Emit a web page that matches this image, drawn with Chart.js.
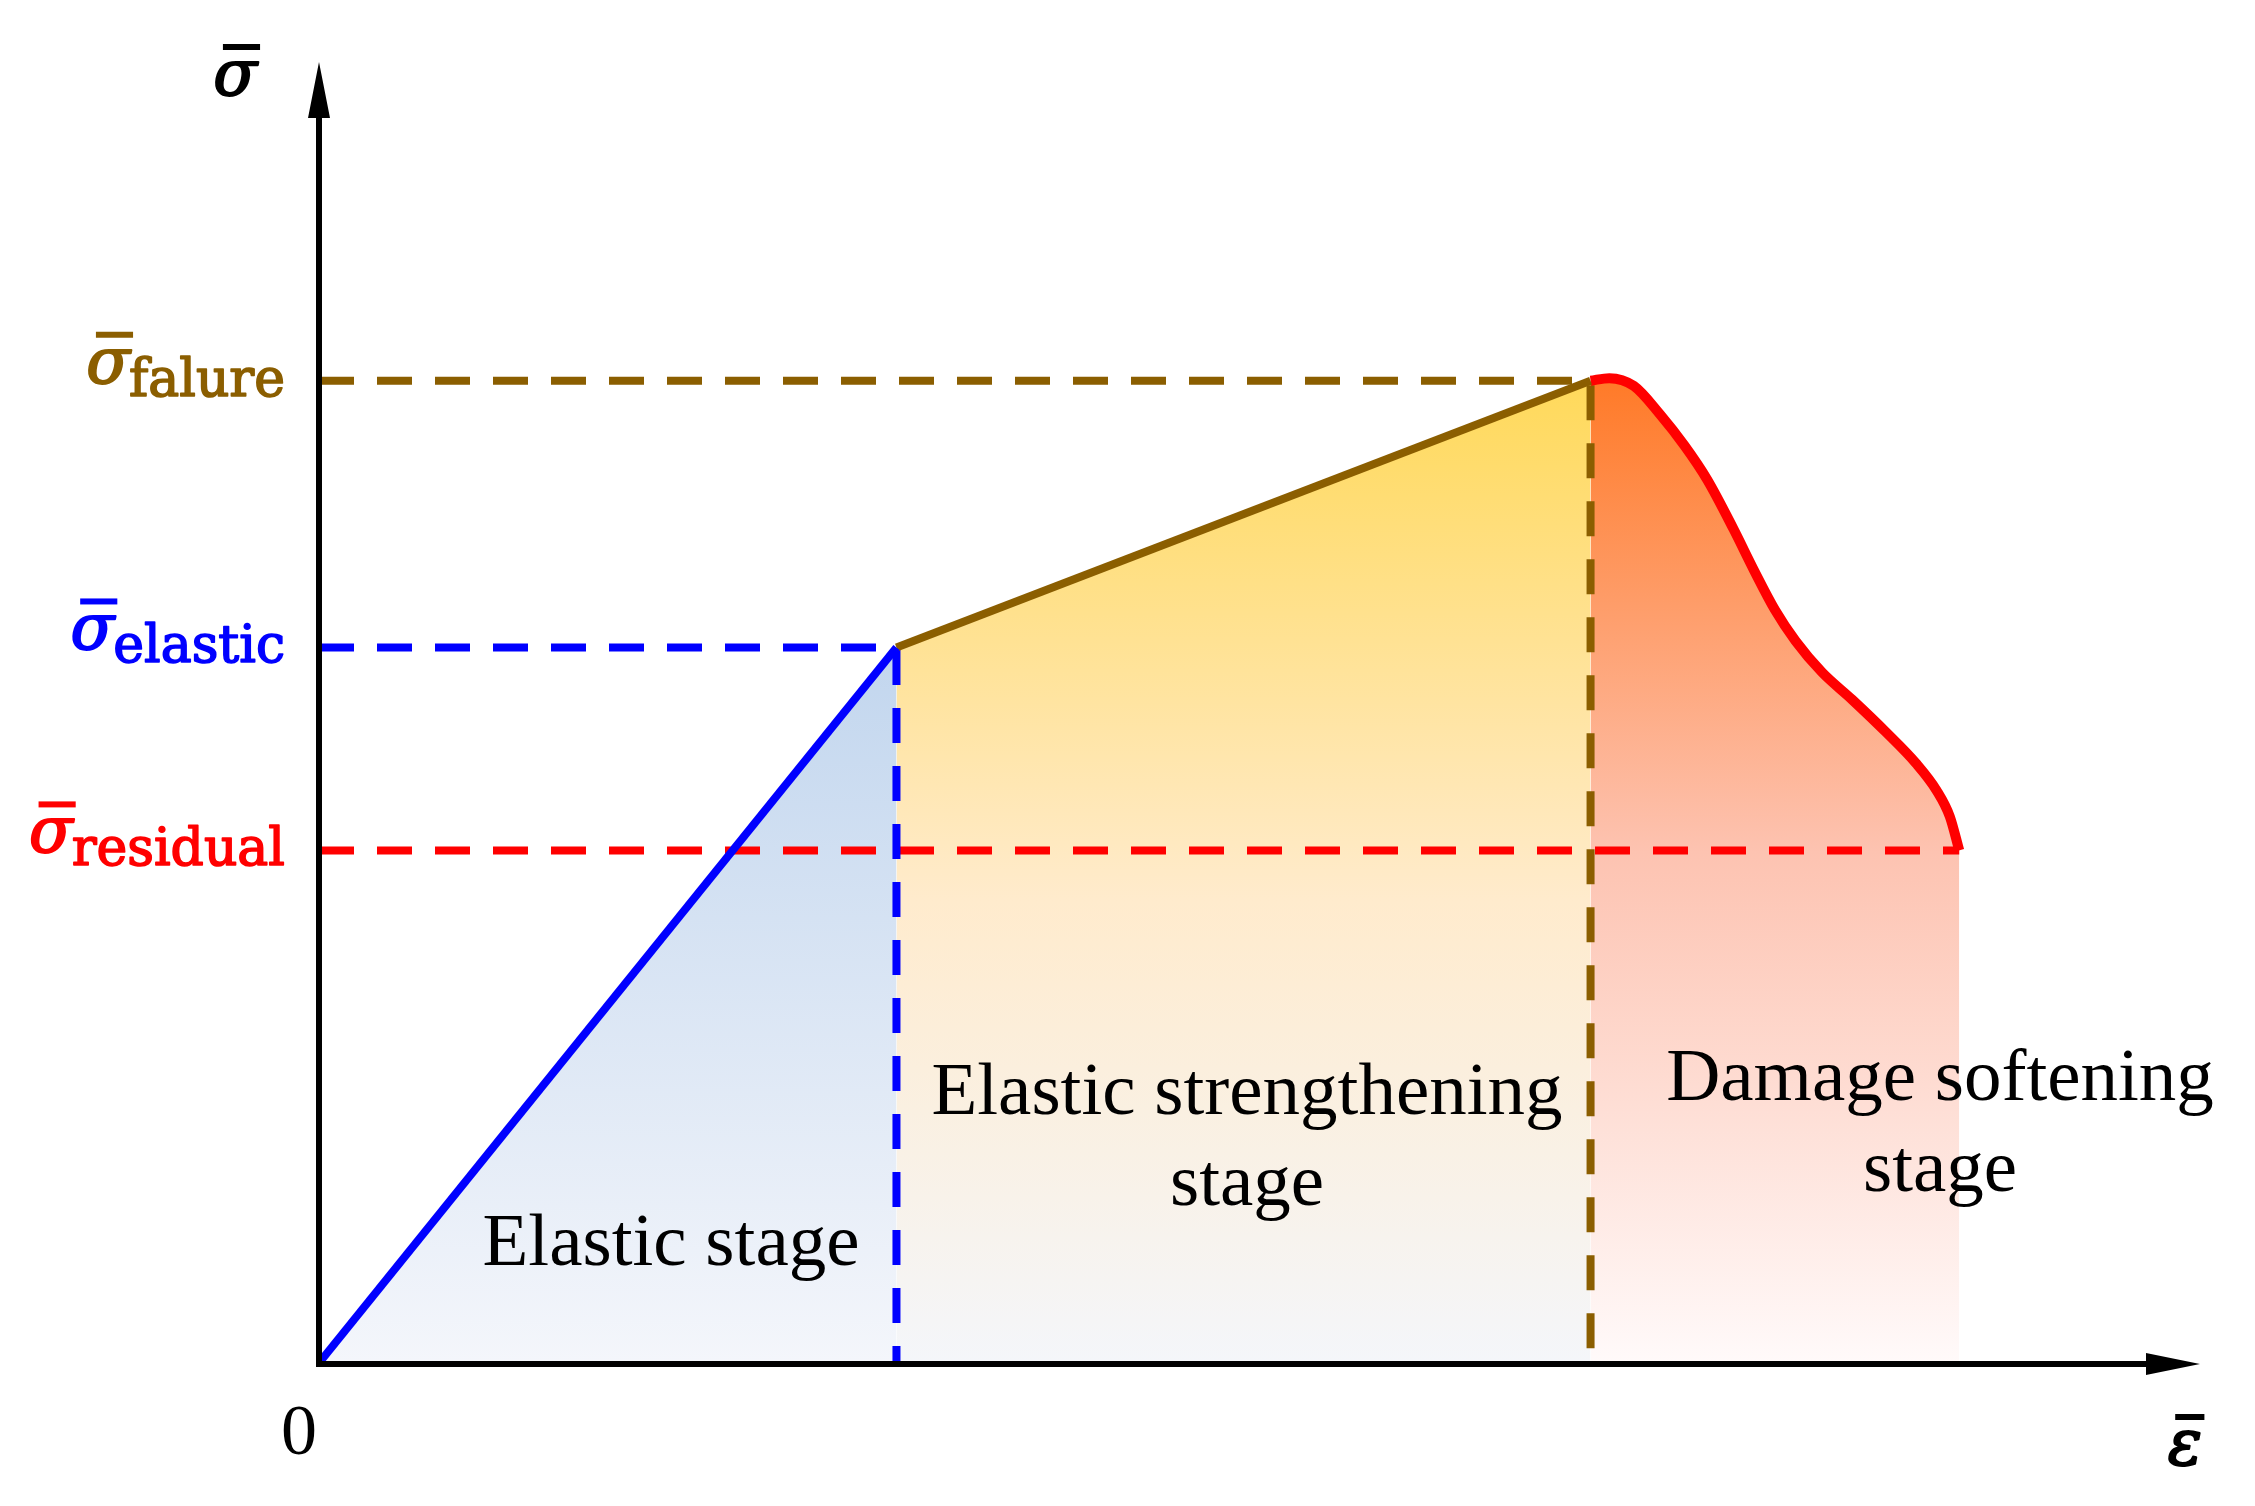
<!DOCTYPE html>
<html>
<head>
<meta charset="utf-8">
<script src="https://cdn.jsdelivr.net/npm/chart.js@4.4.1/dist/chart.umd.min.js"></script>
<style>
  html,body{margin:0;padding:0;background:#fff}
  #wrap{width:2255px;height:1506px;position:relative}
</style>
</head>
<body>
<div id="wrap"><canvas id="c"></canvas></div>
<script>
// ── data (normalised strain / stress, both axes run 0..10) ──
const strainElastic = [0, 3.07];
const stressElastic = [0, 5.50];
const strainHarden  = [3.07, 6.76];
const stressHarden  = [5.50, 7.55];
const strainSoften  = [6.76, 6.86, 6.99, 7.13, 7.26, 7.38, 7.52, 7.63, 7.74, 7.85, 7.99, 8.15, 8.33, 8.49, 8.60, 8.67, 8.72];
const stressSoften  = [7.55, 7.57, 7.51, 7.29, 7.05, 6.79, 6.41, 6.09, 5.79, 5.55, 5.31, 5.10, 4.85, 4.61, 4.40, 4.20, 3.94];
const levelNames  = ['falure', 'elastic', 'residual'];
const levelStress = [7.55, 5.50, 3.94];
const levelEnds   = [6.76, 3.07, 8.72];   // where each dashed level line stops
const levelColors = ['#8B5E00', '#0000FF', '#FF0000'];
const stageLines  = [['Elastic stage'], ['Elastic strengthening', 'stage'], ['Damage softening', 'stage']];
const AX_MAX = 10;

const pts = (xs, ys) => xs.map((v, i) => ({x: v, y: ys[i]}));

// vertical gradient from a stress level down to the x axis
function grad(topStress, stops) {
  return ctx => {
    const ch = ctx.chart;
    if (!ch.chartArea) return 'rgba(0,0,0,0)';
    const ys = ch.scales.y;
    const g = ch.ctx.createLinearGradient(0, ys.getPixelForValue(topStress), 0, ys.getPixelForValue(0));
    stops.forEach(([o, c]) => g.addColorStop(o, c));
    return g;
  };
}

const dash = [35, 23];

const datasets = [
  // fills (drawn first)
  {data: pts(strainElastic, stressElastic), fill: 'origin', borderWidth: 0, pointRadius: 0, order: 10,
   backgroundColor: grad(stressElastic[1], [[0, '#C2D6EE'], [1, '#F4F6FB']])},
  {data: pts(strainHarden, stressHarden), fill: 'origin', borderWidth: 0, pointRadius: 0, order: 10,
   backgroundColor: grad(stressHarden[1], [[0, '#FFD95A'], [0.53, '#FFEBCD'], [1, '#F4F6FA']])},
  {data: pts(strainSoften, stressSoften), fill: 'origin', borderWidth: 0, pointRadius: 0, order: 10,
   cubicInterpolationMode: 'monotone',
   backgroundColor: grad(stressSoften[0], [[0, '#FF7A28'], [0.48, '#FDC3B1'], [1, '#FFFAFA']])},
  // dashed reference lines
  {data: [{x: 0, y: levelStress[0]}, {x: levelEnds[0], y: levelStress[0]}, {x: levelEnds[0], y: 0}],
   borderColor: levelColors[0], borderWidth: 8, borderDash: dash, pointRadius: 0, fill: false, order: 5},
  {data: [{x: 0, y: levelStress[2]}, {x: levelEnds[2], y: levelStress[2]}],
   borderColor: levelColors[2], borderWidth: 8, borderDash: dash, pointRadius: 0, fill: false, order: 6},
  {data: [{x: 0, y: levelStress[1]}, {x: levelEnds[1], y: levelStress[1]}, {x: levelEnds[1], y: 0}],
   borderColor: levelColors[1], borderWidth: 8, borderDash: dash, pointRadius: 0, fill: false, order: 4},
  // solid curves
  {data: pts(strainElastic, stressElastic), borderColor: '#0000FF', borderWidth: 8, pointRadius: 0, fill: false, order: 1},
  {data: pts(strainHarden, stressHarden), borderColor: '#8B5E00', borderWidth: 8, pointRadius: 0, fill: false, order: 1},
  {data: pts(strainSoften, stressSoften), borderColor: '#FF0000', borderWidth: 10, pointRadius: 0, fill: false, order: 1,
   cubicInterpolationMode: 'monotone', borderCapStyle: 'butt'}
];

const SERIF = '"Liberation Serif", "Times New Roman", serif';
const MATH  = '"DejaVu Serif", serif';

// text with a thin outline to thicken strokes
function boldText(ctx, t, xx, yy, w) {
  ctx.lineWidth = w;
  ctx.lineJoin = 'round';
  ctx.strokeStyle = ctx.fillStyle;
  ctx.strokeText(t, xx, yy);
  ctx.fillText(t, xx, yy);
}

// letter with overbar, drawn right-aligned at xr
function barred(ctx, ch, xr, base, size, color) {
  ctx.font = `italic ${size}px ${MATH}`;
  ctx.fillStyle = color;
  ctx.textAlign = 'right';
  boldText(ctx, ch, xr, base, 2);
  const w = ctx.measureText(ch).width;
  ctx.fillRect(xr - w * 0.78, base - 51, w * 0.85, 6);
}

const decor = {
  id: 'decor',
  afterDatasetsDraw(chart) {
    const {ctx, scales: {x, y}} = chart;
    const x0 = x.getPixelForValue(0), y0 = y.getPixelForValue(0);
    const xEnd = x.getPixelForValue(AX_MAX), yEnd = y.getPixelForValue(AX_MAX);
    ctx.save();
    // axes + arrows
    ctx.strokeStyle = '#000'; ctx.fillStyle = '#000'; ctx.lineWidth = 6;
    ctx.beginPath();
    ctx.moveTo(x0, y0 + 3); ctx.lineTo(x0, yEnd + 50);
    ctx.moveTo(x0 - 3, y0 + 1); ctx.lineTo(xEnd - 50, y0 + 1);
    ctx.stroke();
    ctx.beginPath();
    ctx.moveTo(x0, yEnd); ctx.lineTo(x0 - 11, yEnd + 56); ctx.lineTo(x0 + 11, yEnd + 56); ctx.closePath();
    ctx.moveTo(xEnd, y0 + 1); ctx.lineTo(xEnd - 54, y0 - 10); ctx.lineTo(xEnd - 54, y0 + 12); ctx.closePath();
    ctx.fill();

    // axis titles
    barred(ctx, 'σ', x0 - 62, yEnd + 33, 64, '#000');
    barred(ctx, 'ε', xEnd + 2, y0 + 102, 64, '#000');
    ctx.font = `72px ${SERIF}`; ctx.fillStyle = '#000'; ctx.textAlign = 'center';
    ctx.fillText('0', x0 - 20, y0 + 91);

    // level labels on the stress axis
    levelNames.forEach((nm, i) => {
      const py = y.getPixelForValue(levelStress[i]);
      const xr = x0 - 34;
      ctx.font = `52px ${MATH}`;
      ctx.fillStyle = levelColors[i];
      ctx.textAlign = 'right';
      boldText(ctx, nm, xr, py + 15, 1.6);
      const sw = ctx.measureText(nm).width;
      barred(ctx, 'σ', xr - sw + 1, py + 2, 64, levelColors[i]);
    });

    // stage labels
    ctx.font = `75px ${SERIF}`; ctx.fillStyle = '#000'; ctx.textAlign = 'center';
    const stagePos = [[671, 1265], [1247, 1114], [1940, 1100]];
    stageLines.forEach((lines, i) => {
      lines.forEach((t, j) => ctx.fillText(t, stagePos[i][0], stagePos[i][1] + j * 91));
    });
    ctx.restore();
  }
};

new Chart(document.getElementById('c'), {
  type: 'line',
  data: {datasets},
  options: {
    responsive: true,
    maintainAspectRatio: false,
    animation: false,
    devicePixelRatio: 1,
    layout: {padding: {left: 319, right: 55, top: 62, bottom: 143}},
    plugins: {legend: {display: false}, tooltip: {enabled: false}},
    scales: {
      x: {type: 'linear', min: 0, max: AX_MAX, display: false},
      y: {type: 'linear', min: 0, max: AX_MAX, display: false}
    },
    elements: {line: {tension: 0}}
  },
  plugins: [decor]
});
</script>
</body>
</html>
